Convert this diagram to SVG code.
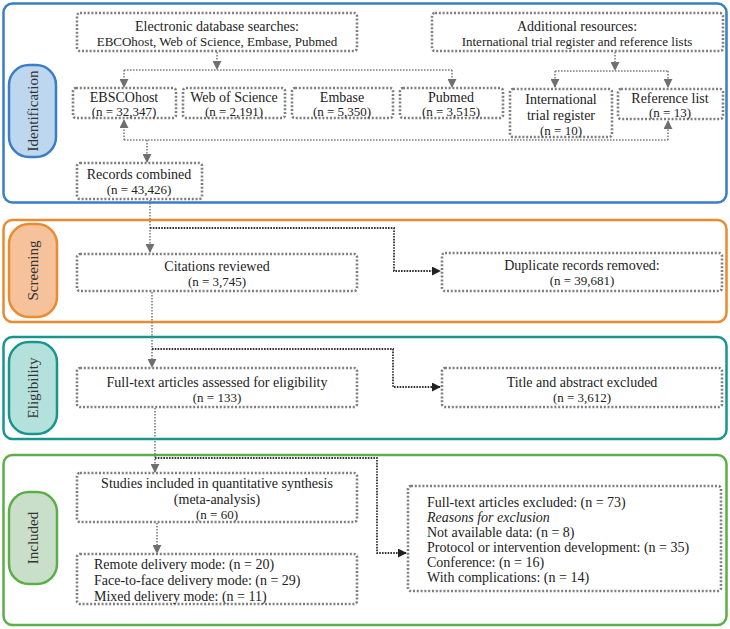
<svg xmlns="http://www.w3.org/2000/svg" width="730" height="629" viewBox="0 0 730 629">
<defs>
<style>
.panel{fill:none;stroke-width:2.5}
.box{fill:#fff;stroke:#7f7f7f;stroke-width:2.6;stroke-dasharray:2 1.8}
.t{font-family:"Liberation Serif","Times New Roman",serif;font-size:14px;fill:#222;text-anchor:middle}
.s{font-size:13px}
.l{text-anchor:start}
.lab{font-family:"Liberation Serif","Times New Roman",serif;font-size:15px;fill:#333;text-anchor:middle}
.c{fill:none;stroke:#7f7f7f;stroke-width:1.6;stroke-dasharray:1.6 1.4}
.cd{fill:none;stroke:#333;stroke-width:1.8;stroke-dasharray:1.6 1.2}
</style>
<marker id="ag" viewBox="0 0 10 10" refX="9" refY="5" markerWidth="9" markerHeight="9" markerUnits="userSpaceOnUse" orient="auto">
<path d="M0,0 L10,5 L0,10 Z" fill="#6f6f6f"/>
</marker>
<marker id="ad" viewBox="0 0 10 10" refX="9" refY="5" markerWidth="9" markerHeight="9" markerUnits="userSpaceOnUse" orient="auto">
<path d="M0,0 L10,5 L0,10 Z" fill="#222"/>
</marker>
</defs>
<rect width="730" height="629" fill="#fff"/>

<g id="panels">
<rect class="panel" x="3.5" y="3.5" width="723" height="199" rx="9" stroke="#3b7ec6"/>
<rect class="panel" x="3.5" y="220" width="723" height="102" rx="9" stroke="#e98b2f"/>
<rect class="panel" x="3.5" y="337" width="723" height="102" rx="9" stroke="#18958d"/>
<rect class="panel" x="3.5" y="455" width="723" height="170" rx="9" stroke="#5bae48"/>
</g>

<g id="stage-identification">
<rect x="9" y="65" width="47" height="92" rx="20" fill="#bdd7ee" stroke="#3b7ec6" stroke-width="2.5"/>
<text class="lab" transform="translate(38,111) rotate(-90)">Identification</text>
</g>
<g id="stage-screening">
<rect x="9" y="224" width="48" height="93" rx="20" fill="#f5c29b" stroke="#e98b2f" stroke-width="2.5"/>
<text class="lab" transform="translate(38,270.5) rotate(-90)">Screening</text>
</g>
<g id="stage-eligibility">
<rect x="9" y="342" width="48" height="92" rx="20" fill="#b5e1dd" stroke="#18958d" stroke-width="2.5"/>
<text class="lab" transform="translate(38,388) rotate(-90)">Eligibility</text>
</g>
<g id="stage-included">
<rect x="9" y="492" width="48" height="92" rx="20" fill="#c9dfc9" stroke="#5bae48" stroke-width="2.5"/>
<text class="lab" transform="translate(38,538) rotate(-90)">Included</text>
</g>

<g id="connectors">
<path class="c" d="M217,52 V69" marker-end="url(#ag)"/>
<path class="c" d="M124,70 H452"/>
<path class="c" d="M124,70 V87" marker-end="url(#ag)"/>
<path class="c" d="M452,70 V87" marker-end="url(#ag)"/>
<path class="c" d="M615,52 V70" marker-end="url(#ag)"/>
<path class="c" d="M555,71 H668"/>
<path class="c" d="M555,71 V87" marker-end="url(#ag)"/>
<path class="c" d="M668,71 V87" marker-end="url(#ag)"/>
<path class="c" d="M124,140 H668"/>
<path class="c" d="M124,140 V120" marker-end="url(#ag)"/>
<path class="c" d="M668,140 V121" marker-end="url(#ag)"/>
<path class="c" d="M147,140 V162" marker-end="url(#ag)"/>
<path class="c" d="M150,200 V252" marker-end="url(#ag)"/>
<path class="cd" d="M150,228 H394 V271 H440" marker-end="url(#ad)"/>
<path class="c" d="M152,292 V367" marker-end="url(#ag)"/>
<path class="cd" d="M152,349 H393 V387 H440" marker-end="url(#ad)"/>
<path class="c" d="M155,408 V472" marker-end="url(#ag)"/>
<path class="cd" d="M155,458 H377 V553 H406" marker-end="url(#ad)"/>
<path class="c" d="M157,523 V553" marker-end="url(#ag)"/>
</g>

<g id="electronic-search">
<rect class="box" x="77" y="13" width="280" height="38" rx="3"/>
<text class="t" x="217" y="31">Electronic database searches:</text>
<text class="t s" x="217" y="46">EBCOhost, Web of Science, Embase, Pubmed</text>
</g>
<g id="additional-resources">
<rect class="box" x="432" y="13" width="291" height="38" rx="3"/>
<text class="t" x="577" y="31">Additional resources:</text>
<text class="t s" x="577" y="46">International trial register and reference lists</text>
</g>
<g id="ebscohost">
<rect class="box" x="73" y="88" width="103" height="30" rx="3"/>
<text class="t" x="124" y="102">EBSCOhost</text>
<text class="t s" x="124" y="116">(n = 32,347)</text>
</g>
<g id="web-of-science">
<rect class="box" x="183" y="88" width="102" height="30" rx="3"/>
<text class="t" x="234" y="102">Web of Science</text>
<text class="t s" x="234" y="116">(n = 2,191)</text>
</g>
<g id="embase">
<rect class="box" x="292" y="88" width="101" height="30" rx="3"/>
<text class="t" x="342" y="102">Embase</text>
<text class="t s" x="342" y="116">(n = 5,350)</text>
</g>
<g id="pubmed">
<rect class="box" x="400" y="88" width="103" height="30" rx="3"/>
<text class="t" x="451" y="102">Pubmed</text>
<text class="t s" x="451" y="116">(n = 3,515)</text>
</g>
<g id="trial-register">
<rect class="box" x="510" y="89" width="102" height="48" rx="3"/>
<text class="t" x="561" y="104">International</text>
<text class="t" x="561" y="120">trial register</text>
<text class="t s" x="561" y="135">(n = 10)</text>
</g>
<g id="reference-list">
<rect class="box" x="618" y="89" width="105" height="30" rx="3"/>
<text class="t" x="670" y="103">Reference list</text>
<text class="t s" x="670" y="117">(n = 13)</text>
</g>
<g id="records-combined">
<rect class="box" x="77" y="163" width="125" height="36" rx="3"/>
<text class="t" x="139" y="179">Records combined</text>
<text class="t s" x="139" y="194">(n = 43,426)</text>
</g>
<g id="citations-reviewed">
<rect class="box" x="77" y="254" width="280" height="37" rx="3"/>
<text class="t" x="217" y="271">Citations reviewed</text>
<text class="t s" x="217" y="286">(n = 3,745)</text>
</g>
<g id="duplicates-removed">
<rect class="box" x="442" y="253" width="280" height="38" rx="3"/>
<text class="t" x="582" y="270">Duplicate records removed:</text>
<text class="t s" x="582" y="285">(n = 39,681)</text>
</g>
<g id="fulltext-assessed">
<rect class="box" x="77" y="368" width="280" height="39" rx="3"/>
<text class="t" x="217" y="387">Full-text articles assessed for eligibility</text>
<text class="t s" x="217" y="402">(n = 133)</text>
</g>
<g id="title-abstract-excluded">
<rect class="box" x="442" y="368" width="280" height="39" rx="3"/>
<text class="t" x="582" y="387">Title and abstract excluded</text>
<text class="t s" x="582" y="402">(n = 3,612)</text>
</g>
<g id="studies-included">
<rect class="box" x="77" y="473" width="280" height="49" rx="3"/>
<text class="t" x="217" y="488">Studies included in quantitative synthesis</text>
<text class="t" x="217" y="504">(meta-analysis)</text>
<text class="t s" x="217" y="519">(n = 60)</text>
</g>
<g id="delivery-modes">
<rect class="box" x="77" y="554" width="280" height="50" rx="3"/>
<text class="t l" x="94" y="569">Remote delivery mode: (n = 20)</text>
<text class="t l" x="94" y="585">Face-to-face delivery mode: (n = 29)</text>
<text class="t l" x="94" y="601">Mixed delivery mode: (n = 11)</text>
</g>
<g id="fulltext-excluded">
<rect class="box" x="408" y="486" width="313" height="105" rx="3"/>
<text class="t l" x="427" y="507">Full-text articles excluded: (n = 73)</text>
<text class="t l" x="427" y="522" font-style="italic">Reasons for exclusion</text>
<text class="t l" x="427" y="537">Not available data: (n = 8)</text>
<text class="t l" x="427" y="552">Protocol or intervention development: (n = 35)</text>
<text class="t l" x="427" y="567">Conference: (n = 16)</text>
<text class="t l" x="427" y="582">With complications: (n = 14)</text>
</g>
</svg>
